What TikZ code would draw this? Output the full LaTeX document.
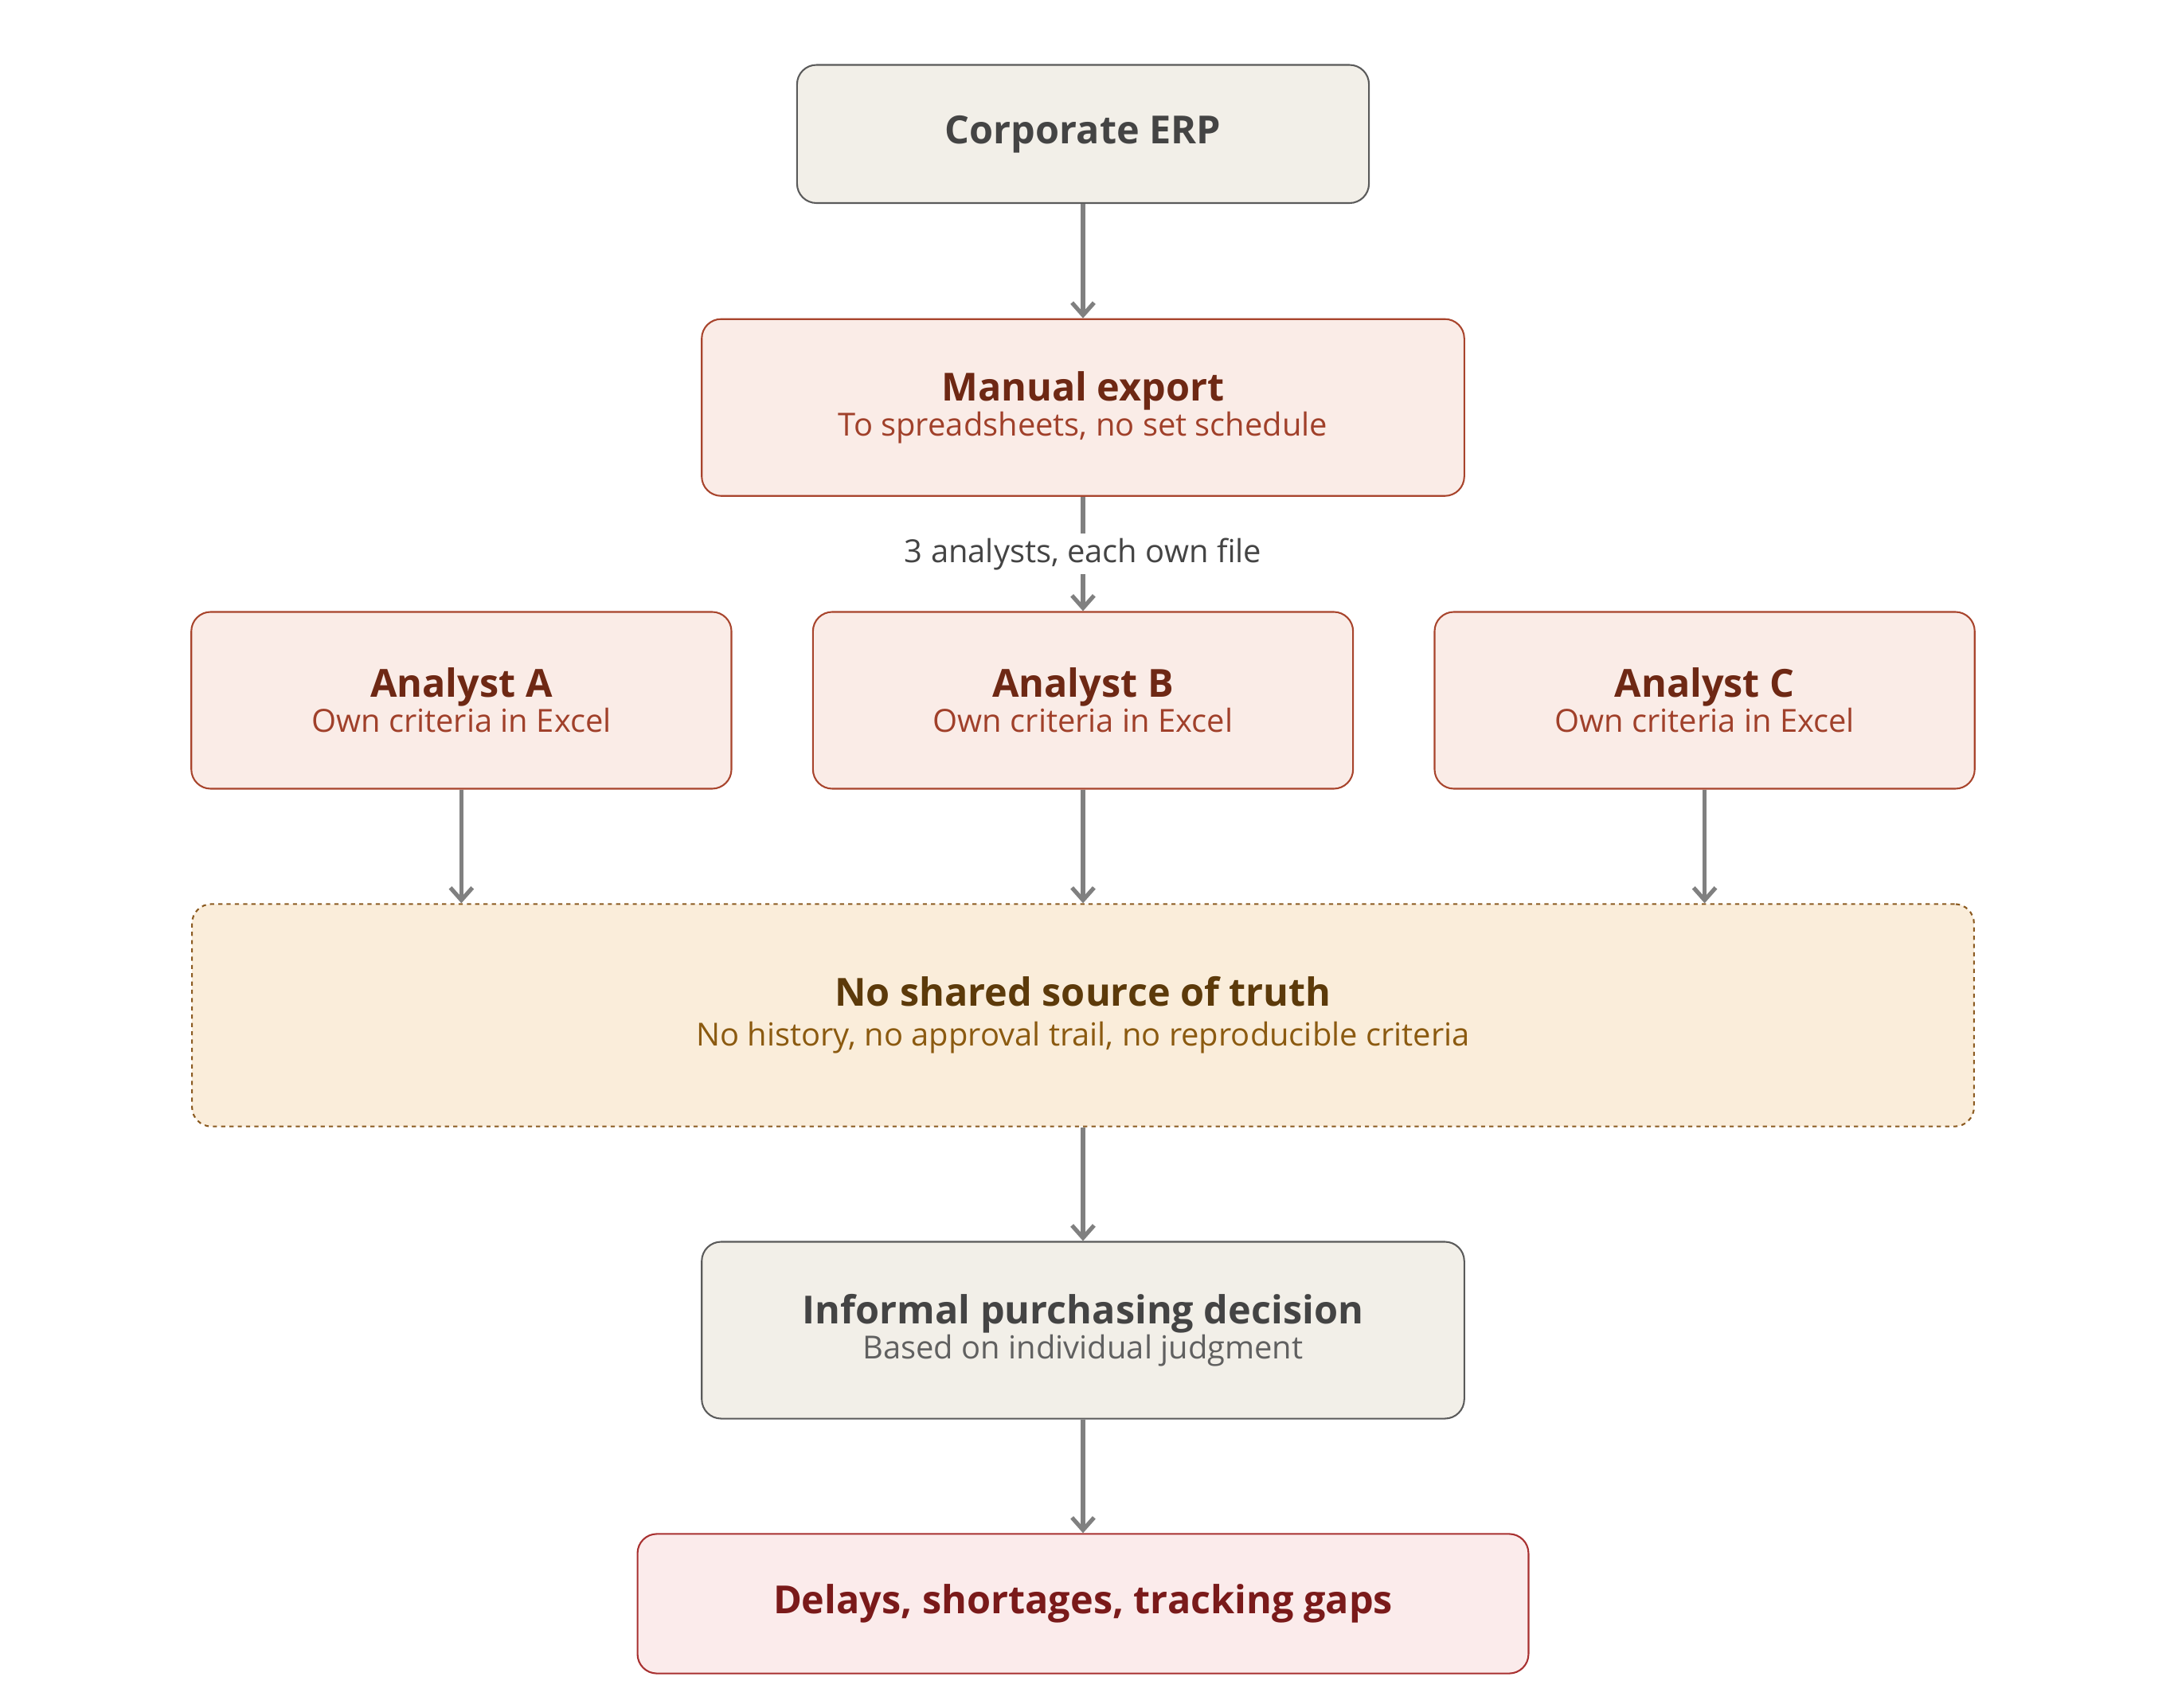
\documentclass[tikz,border=0pt]{standalone}
\usepackage{fontspec}
\setmainfont{Open Sans}
\usetikzlibrary{positioning, arrows.meta}
\definecolor{grayfill}{HTML}{F2EFE8}
\definecolor{grayline}{HTML}{5A5A5A}
\definecolor{graytext}{HTML}{444444}
\definecolor{redfill}{HTML}{FAECE7}
\definecolor{redline}{HTML}{A8442C}
\definecolor{redtitle}{HTML}{6E2814}
\definecolor{redsub}{HTML}{A0402A}
\definecolor{amberfill}{HTML}{FAEDDA}
\definecolor{amberline}{HTML}{8B5A20}
\definecolor{ambertitle}{HTML}{5C3A0A}
\definecolor{ambersub}{HTML}{8B5A10}
\definecolor{pinkfill}{HTML}{FBEBEB}
\definecolor{pinkline}{HTML}{A83030}
\definecolor{pinktext}{HTML}{7A1A1A}
\definecolor{arrowgray}{HTML}{808080}
\newcommand{\ttl}[1]{{\fontsize{28}{34}\selectfont\bfseries #1}}
\newcommand{\sub}[1]{{\fontsize{23}{34}\selectfont #1}}

\begin{document}
\begin{tikzpicture}[
    x=1pt, y=-1pt,
    >={Straight Barb[length=9pt,width=16pt]},
    box/.style={draw, rectangle, rounded corners=14pt, line width=1.2pt, align=center, inner sep=0pt},
    neutral/.style={box, draw=grayline, fill=grayfill, text=graytext},
    warn/.style={box, draw=redline, fill=redfill, text=redtitle},
    flow/.style={->, draw=arrowgray, line width=3pt}
]
    \useasboundingbox (0,0) rectangle (1568,1236);

    % Source system
    \node[neutral, minimum width=414pt, minimum height=100pt] (erp) at (784,97) {\ttl{Corporate ERP}};

    % Export step
    \node[warn, minimum width=552pt, minimum height=128pt] (export) at (784,295)
        {\ttl{Manual export}\\\sub{\color{redsub}To spreadsheets, no set schedule}};

    % Analysts
    \foreach \name/\xpos in {A/334, B/784, C/1234}
        \node[warn, minimum width=391pt, minimum height=128pt] (analyst\name) at (\xpos,507)
            {\ttl{Analyst \name}\\\sub{\color{redsub}Own criteria in Excel}};

    % Common problem
    \node[box, dashed, draw=amberline, fill=amberfill, text=ambertitle,
          minimum width=1290pt, minimum height=161pt] (truth) at (784,735)
        {\ttl{No shared source of truth}\\[10pt]\sub{\color{ambersub}No history, no approval trail, no reproducible criteria}};

    % Decision and outcome
    \node[neutral, minimum width=552pt, minimum height=128pt] (decision) at (784,963)
        {\ttl{Informal purchasing decision}\\\sub{\color{graytext!85}Based on individual judgment}};
    \node[box, draw=pinkline, fill=pinkfill, text=pinktext, minimum width=645pt, minimum height=101pt] (outcome) at (784,1161)
        {\ttl{Delays, shortages, tracking gaps}};

    % Connectors
    \draw[flow] (erp) -- (export);
    \draw[flow] (export) -- (analystB) node[midway, fill=white, text=graytext, inner sep=3pt] {\sub{3 analysts, each own file}};
    \foreach \name in {A, B, C}
        \draw[flow] (analyst\name) -- (analyst\name |- truth.north);
    \draw[flow] (truth) -- (decision);
    \draw[flow] (decision) -- (outcome);
\end{tikzpicture}
\end{document}
